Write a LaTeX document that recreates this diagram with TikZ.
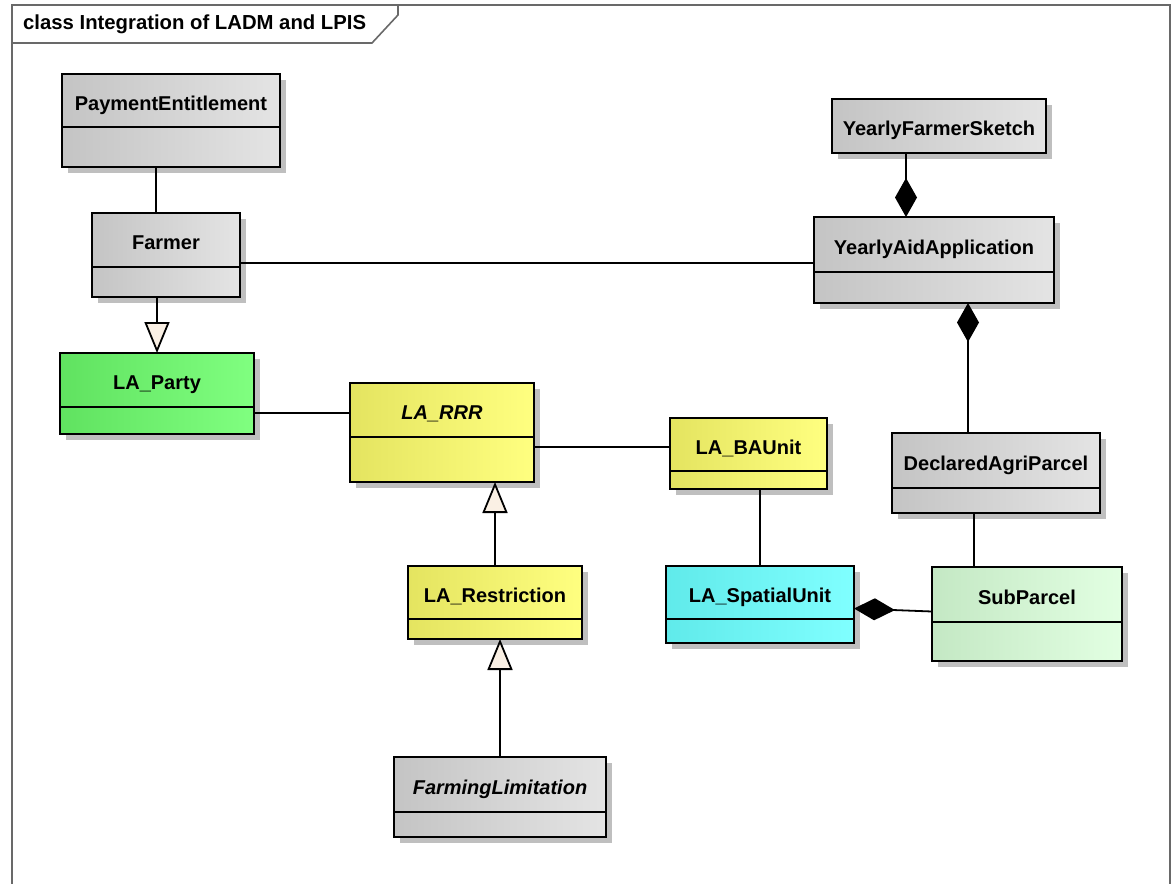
\documentclass[tikz,border=0pt]{standalone}
\usepackage{fontspec}
\setmainfont{Liberation Sans}
\usetikzlibrary{positioning,shadows,arrows.meta}

\definecolor{greyL}{RGB}{196,196,196}
\definecolor{greyR}{RGB}{228,228,228}
\definecolor{greenL}{RGB}{96,226,96}
\definecolor{greenR}{RGB}{128,255,128}
\definecolor{yellowL}{RGB}{228,228,96}
\definecolor{yellowR}{RGB}{255,255,128}
\definecolor{cyanL}{RGB}{96,234,234}
\definecolor{cyanR}{RGB}{128,255,255}
\definecolor{paleL}{RGB}{196,232,196}
\definecolor{paleR}{RGB}{226,255,226}
\definecolor{genfill}{RGB}{250,240,228}
\definecolor{framegrey}{RGB}{105,105,105}

\tikzset{
  cls/.style={draw, line width=1.8pt, outer sep=0pt, inner sep=0pt,
    font=\bfseries\fontsize{20}{24}\selectfont,
    drop shadow={shadow xshift=6pt, shadow yshift=-6pt, fill=black!25, opacity=1}},
  clsname/.style={cls, text height=20pt, text depth=1pt, minimum height=54pt},
  clsatt/.style={cls},
  grey/.style={left color=greyL, right color=greyR},
  green/.style={left color=greenL, right color=greenR},
  yellow/.style={left color=yellowL, right color=yellowR},
  cyan/.style={left color=cyanL, right color=cyanR},
  pale/.style={left color=paleL, right color=paleR},
  assoc/.style={line width=1.8pt},
  gen/.style={line width=1.8pt, -{Triangle[length=31pt, width=25pt, fill=genfill]}},
  comp/.style={line width=1.8pt, -{Diamond[length=39pt, width=22pt]}},
  frame/.style={draw=framegrey, line width=1.6pt}
}

\begin{document}
\begin{tikzpicture}[x=1pt, y=-1pt]
  \useasboundingbox (0,0) rectangle (1174,883);
  \clip (0,0) rectangle (1174,883);
  \fill[white] (0,0) rectangle (1174,883);

  %frame
  \draw[frame] (12,895) -- (12,5) -- (1170,5) -- (1170,895);
  \draw[frame] (12,43) -- (372,43) -- (398,15) -- (398,5);
  \node[anchor=base west, inner sep=0pt, font=\bfseries\fontsize{20.3}{24}\selectfont] (title) at (23,30) {class Integration of LADM and LPIS};

  %classes
  \node[clsname, grey, minimum width=218pt, minimum height=53pt] (pe) at (171,100.5) {PaymentEntitlement};
  \node[clsatt, grey, minimum width=218pt, minimum height=40pt, below=0pt of pe] (pe-att) {};
  \node[clsname, grey, minimum width=148pt] (farmer) at (166,240) {Farmer};
  \node[clsatt, grey, minimum width=148pt, minimum height=30pt, below=0pt of farmer] (farmer-att) {};
  \node[clsname, green, minimum width=194pt] (party) at (157,380) {LA\_Party};
  \node[clsatt, green, minimum width=194pt, minimum height=27pt, below=0pt of party] (party-att) {};
  \node[clsname, yellow, minimum width=184pt] (rrr) at (442,410) {\itshape LA\_RRR};
  \node[clsatt, yellow, minimum width=184pt, minimum height=45pt, below=0pt of rrr] (rrr-att) {};
  \node[clsname, yellow, minimum width=157pt, minimum height=53pt] (baunit) at (748.5,444.5) {LA\_BAUnit};
  \node[clsatt, yellow, minimum width=157pt, minimum height=18pt, below=0pt of baunit] (baunit-att) {};
  \node[clsname, yellow, minimum width=174pt, minimum height=53pt] (restr) at (495,592.5) {LA\_Restriction};
  \node[clsatt, yellow, minimum width=174pt, minimum height=20pt, below=0pt of restr] (restr-att) {};
  \node[clsname, cyan, minimum width=188pt, minimum height=53pt] (spatial) at (760,592.5) {LA\_SpatialUnit};
  \node[clsatt, cyan, minimum width=188pt, minimum height=24pt, below=0pt of spatial] (spatial-att) {};
  \node[clsname, grey, minimum width=212pt, minimum height=55pt] (limit) at (500,784.5) {\itshape FarmingLimitation};
  \node[clsatt, grey, minimum width=212pt, minimum height=25pt, below=0pt of limit] (limit-att) {};
  \node[clsname, grey, minimum width=214pt] (sketch) at (939,126) {YearlyFarmerSketch};
  \node[clsname, grey, minimum width=240pt, minimum height=55pt] (aid) at (934,244.5) {YearlyAidApplication};
  \node[clsatt, grey, minimum width=240pt, minimum height=31pt, below=0pt of aid] (aid-att) {};
  \node[clsname, grey, minimum width=208pt, minimum height=55pt] (declared) at (996,460.5) {DeclaredAgriParcel};
  \node[clsatt, grey, minimum width=208pt, minimum height=25pt, below=0pt of declared] (declared-att) {};
  \node[clsname, pale, minimum width=190pt, minimum height=55pt] (sub) at (1027,594.5) {SubParcel};
  \node[clsatt, pale, minimum width=190pt, minimum height=39pt, below=0pt of sub] (sub-att) {};

  %associations
  \draw[assoc] ([xshift=-15pt]pe-att.south) -- ([xshift=-15pt]pe-att.south |- farmer.north);
  \draw[assoc] ([yshift=-18.5pt]aid.west) -- ([yshift=-18.5pt]aid.west -| farmer.east);
  \draw[assoc] ([yshift=-3pt]rrr.west) -- ([yshift=-3pt]rrr.west -| party-att.east);
  \draw[assoc] ([yshift=-2.5pt]baunit.west) -- ([yshift=-2.5pt]baunit.west -| rrr-att.east);
  \draw[assoc] (spatial.north) -- (spatial.north |- baunit-att.south);
  \draw[assoc] ([xshift=-22pt]declared-att.south) -- ([xshift=-22pt]declared-att.south |- sub.north);

  %generalizations
  \draw[gen] (farmer-att.south -| party.north) -- (party.north);
  \draw[gen] (restr.north) -- (restr.north |- rrr-att.south);
  \draw[gen] (limit.north) -- (limit.north |- restr-att.south);

  %compositions
  \draw[comp] ([xshift=-33pt]sketch.south) -- ([xshift=-33pt]sketch.south |- aid.north);
  \draw[comp] ([xshift=-28pt]declared.north) -- ([xshift=-28pt]declared.north |- aid-att.south);
  \draw[comp, -{Diamond[length=41pt, width=22pt]}] ([yshift=-17pt]sub.west) -- ([yshift=-16pt]spatial.east);
\end{tikzpicture}
\end{document}
